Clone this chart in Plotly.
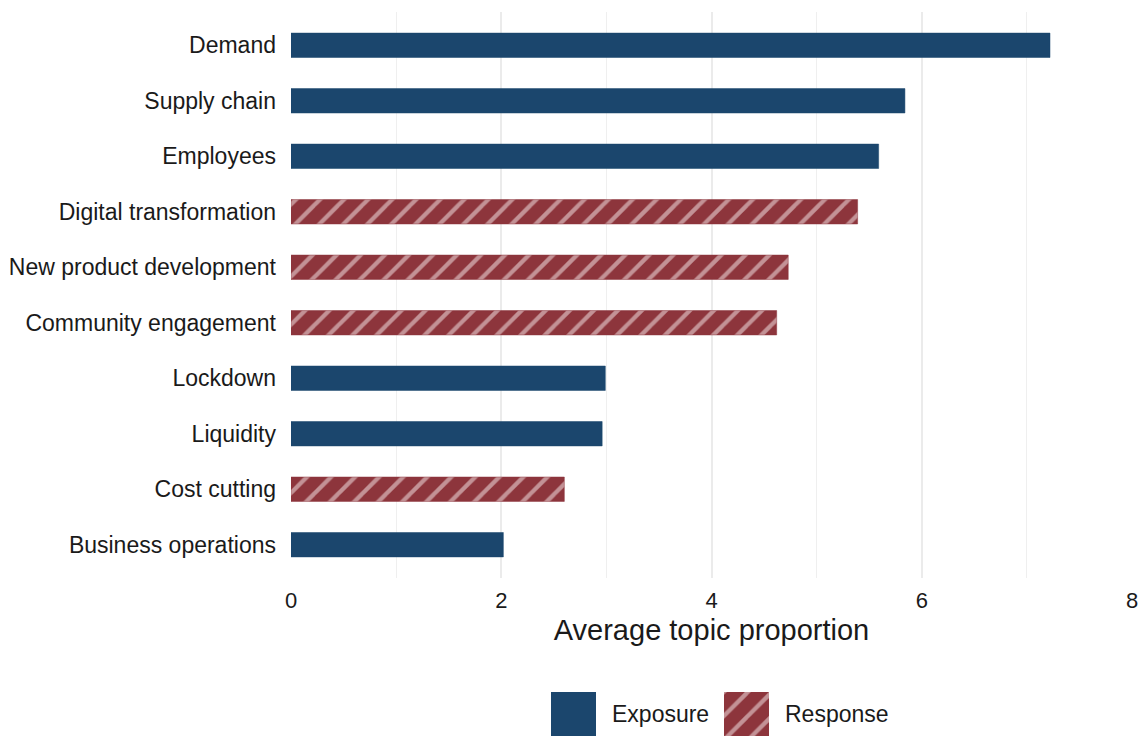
import plotly.graph_objects as go

topics = ["Demand", "Supply chain", "Employees", "Digital transformation",
          "New product development", "Community engagement", "Lockdown",
          "Liquidity", "Cost cutting", "Business operations"]
values = [7.22, 5.84, 5.59, 5.39, 4.73, 4.62, 2.99, 2.96, 2.60, 2.02]
kind = ["Exposure", "Exposure", "Exposure", "Response", "Response", "Response",
        "Exposure", "Exposure", "Response", "Exposure"]
groups = ["Exposure", "Response"]

BLUE = "#1B466D"
RED = "#8D353C"
COLORS = {"Exposure": BLUE, "Response": RED}
PATTERN = dict(shape="/", fgcolor="#FAF0F0", size=17, solidity=0.25)

# page body has an 8px margin, so the figure is laid out 8px smaller
OFF = 8
W, H = 1147 - OFF, 736 - OFF
L, R, T = 291 - OFF, 15, 12 - OFF
PLOT_BOTTOM = 578 - OFF
paper_h = H - T
main_dom_bottom = (H - PLOT_BOTTOM) / paper_h

fig = go.Figure()
for k in groups:
    col = COLORS[k]
    ys = [t for t, kk in zip(topics, kind) if kk == k]
    xs = [v for v, kk in zip(values, kind) if kk == k]
    marker = dict(color=col, line=dict(color=col, width=0.5))
    if k == "Response":
        marker["pattern"] = PATTERN
    fig.add_trace(go.Bar(x=xs, y=ys, orientation="h", name=k, marker=marker,
                         width=0.44, showlegend=False))

# Custom legend with large keys (helper axis measured in pixels)
key_centers = [573.5 - OFF, 746.5 - OFF]
key_size = 45
for k, cx in zip(groups, key_centers):
    col = COLORS[k]
    marker = dict(color=col, line=dict(width=0))
    if k == "Response":
        marker["pattern"] = PATTERN
    fig.add_trace(go.Bar(x=[cx], y=[1], width=key_size, marker=marker,
                         xaxis="x2", yaxis="y2", showlegend=False, hoverinfo="skip"))
    fig.add_annotation(x=cx + key_size / 2 + 14, y=0.5, xref="x2", yref="y2",
                       text=k, showarrow=False, xanchor="left", yanchor="middle",
                       font=dict(size=23, color="#1a1a1a"))

leg_top = (H - (692 - OFF)) / paper_h
fig.update_layout(
    width=W, height=H,
    margin=dict(l=L, r=R, t=T, b=0),
    plot_bgcolor="white", paper_bgcolor="white",
    font=dict(family="Liberation Sans, Arial, sans-serif", size=23, color="#1a1a1a"),
    barmode="overlay",
    showlegend=False,
    xaxis=dict(range=[0, 8], tickvals=[0, 2, 4, 6, 8], showgrid=True,
               gridcolor="#EBEBEB", gridwidth=2, zeroline=False, automargin=False,
               minor=dict(tickvals=[1, 3, 5, 7], showgrid=True, gridcolor="#EFEFEF", gridwidth=1.3),
               ticks="", ticklabelstandoff=7, tickfont=dict(size=22, color="#1a1a1a"),
               title=dict(text="Average topic proportion", font=dict(size=29), standoff=7),
               anchor="y"),
    yaxis=dict(categoryorder="array", categoryarray=topics[::-1],
               range=[-0.6, 9.6], showgrid=False, zeroline=False, ticks="",
               automargin=False, domain=[main_dom_bottom, 1],
               ticklabelstandoff=14, tickfont=dict(size=23, color="#1a1a1a")),
    xaxis2=dict(range=[L, W - R], domain=[0, 1], anchor="y2", visible=False,
                fixedrange=True),
    yaxis2=dict(range=[0, 1], domain=[0, leg_top], anchor="x2", visible=False,
                fixedrange=True),
)

fig.write_html("out.html")
